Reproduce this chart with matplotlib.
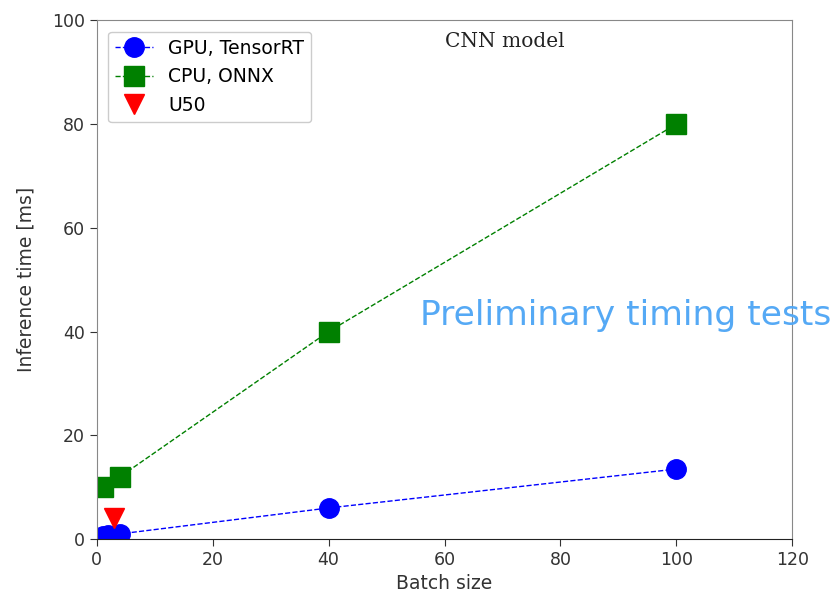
import numpy as np
import matplotlib.pyplot as plt

# batch sizes and inference times [ms]
gpu_batch = [1, 2, 4, 40, 100]
gpu_time = [0.5, 0.7, 1.0, 6.0, 13.5]
cpu_batch = [1, 4, 40, 100]
cpu_time = [10.0, 12.0, 40.0, 80.0]
u50_batch = [3]
u50_time = [4.0]

fig = plt.figure(figsize=(8.34, 5.97), dpi=100)
ax = fig.add_axes([0.116, 0.097, 0.834, 0.869])

ax.plot(gpu_batch, gpu_time, "b--", marker="o", markersize=14, linewidth=1, label="GPU, TensorRT")
ax.plot(cpu_batch, cpu_time, "g--", marker="s", markersize=14, linewidth=1, label="CPU, ONNX")
ax.plot(u50_batch, u50_time, "rv", markersize=14, label="U50")

ax.set_xlim(0, 120)
ax.set_ylim(0, 100)
ax.set_xticks(np.arange(0, 121, 20))
ax.set_yticks(np.arange(0, 101, 20))
ax.tick_params(labelsize=12.5, colors="#333333", length=5)
for s in ax.spines.values():
    s.set_color("#888888")
ax.spines["bottom"].set_color("#222222")
ax.set_xlabel("Batch size", fontsize=13.5, color="#333333")
ax.set_ylabel("Inference time [ms]", fontsize=13.5, color="#333333", labelpad=12)
ax.legend(loc="upper left", fontsize=13.5, handlelength=2.0, framealpha=1,
          borderaxespad=0.6)

ax.text(0.5, 0.978, "CNN model", transform=ax.transAxes, fontsize=14.5,
        family="DejaVu Serif", color="#222222", va="top")
fig.text(0.503, 0.455, "Preliminary timing tests", fontsize=24.8, family="DejaVu Sans",
         color="#55a9f5", zorder=0)

plt.savefig("out.png", dpi=100)
